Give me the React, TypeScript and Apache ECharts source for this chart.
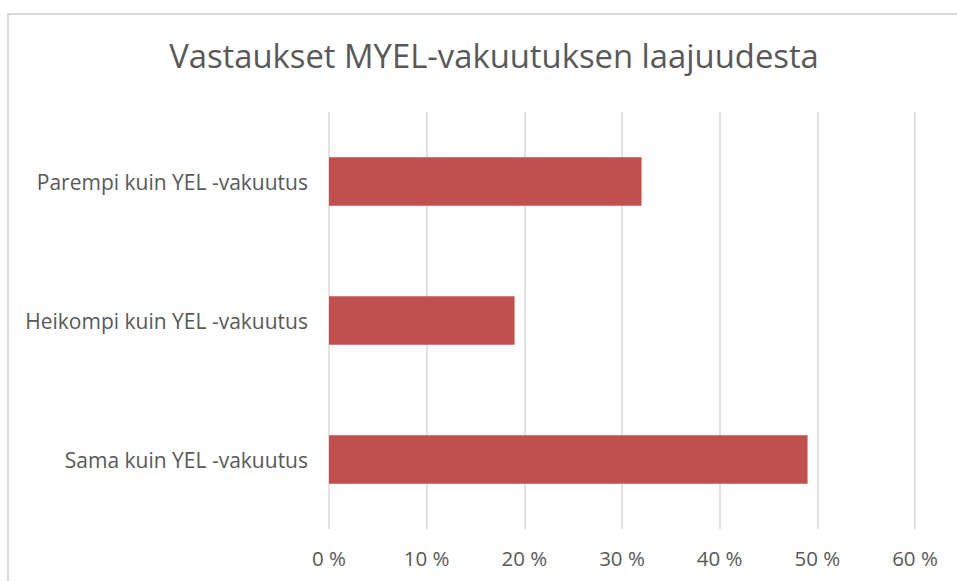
import React, { useEffect, useRef } from "react";
import * as echarts from "echarts";

const TITLE = "Vastaukset MYEL-vakuutuksen laajuudesta";
const categories = [
  "Sama kuin YEL -vakuutus",
  "Heikompi kuin YEL -vakuutus",
  "Parempi kuin YEL -vakuutus",
];
const values = [49, 19, 32];
const xMin = 0;
const xMax = 60;
const xInterval = 10;

export default function App() {
  const ref = useRef<HTMLDivElement>(null);
  useEffect(() => {
    if (!ref.current) return;
    const chart = echarts.init(ref.current, null, { renderer: "svg" });
    const font = "'Open Sans', 'Noto Sans', sans-serif";
    chart.setOption({
      animation: false,
      backgroundColor: "#ffffff",
      textStyle: { fontFamily: font },
      title: {
        text: TITLE,
        left: 489,
        textAlign: "center",
        top: 34,
        textStyle: {
          fontFamily: font,
          fontSize: 32.8,
          fontWeight: "normal",
          color: "#595959",
        },
      },
      graphic: [
        {
          type: "rect",
          shape: { x: 8, y: 14, width: 1200, height: 1200 },
          style: { fill: "none", stroke: "#D9D9D9", lineWidth: 2 },
          silent: true,
        },
      ],
      grid: { left: 329, right: 42, top: 112, bottom: 52, containLabel: false },
      xAxis: {
        type: "value",
        min: xMin,
        max: xMax,
        interval: xInterval,
        axisLine: { show: false },
        axisTick: { show: false },
        splitLine: { show: true, lineStyle: { color: "#D9D9D9", width: 1.5 } },
        axisLabel: {
          formatter: "{value} %",
          color: "#595959",
          fontSize: 20.5,
          fontFamily: font,
          margin: 18,
        },
      },
      yAxis: {
        type: "category",
        data: categories,
        axisLine: { show: false },
        axisTick: { show: false },
        axisLabel: {
          color: "#595959",
          fontSize: 21,
          fontFamily: font,
          margin: 21,
        },
      },
      series: [
        {
          type: "bar",
          data: values,
          barWidth: "35%",
          itemStyle: { color: "#C0504D" },
        },
      ],
    });
    return () => chart.dispose();
  }, []);
  return (
    <div
      ref={ref}
      style={{ position: "absolute", left: 0, top: 0, width: 957, height: 581 }}
    />
  );
}
